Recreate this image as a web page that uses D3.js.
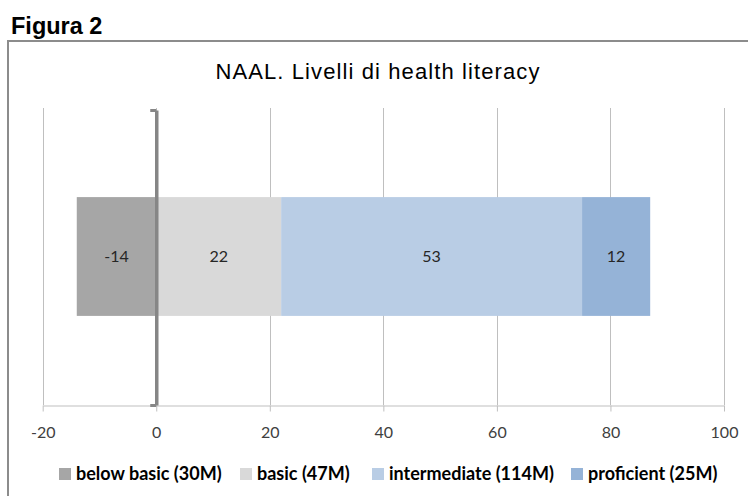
<!DOCTYPE html>
<html>
<head>
<meta charset="utf-8">
<script src="https://cdn.jsdelivr.net/npm/d3@7"></script>
<style>
  body { margin: 0; background: #fff; }
  svg { display: block; }
  .tick-label { font-family: Lato, 'Open Sans', sans-serif; font-size: 16px; fill: #404040; }
  .legend-text { font-family: Lato, 'Open Sans', sans-serif; font-size: 18px; font-weight: bold; fill: #000; }
  .bar-label { font-family: Lato, 'Open Sans', sans-serif; font-size: 16px; fill: #262626; }
</style>
</head>
<body>
<div id="chart"></div>
<script>
  // data
  var categories = ['NAAL'];
  var seriesNames = ['below basic (30M)', 'basic (47M)', 'intermediate (114M)', 'proficient (25M)'];
  var seriesValues = [-14, 22, 53, 12];
  var seriesColors = ['#a6a6a6', '#d9d9d9', '#b9cde5', '#95b3d7'];
  var tickValues = [-20, 0, 20, 40, 60, 80, 100];

  var svgWidth = 748,
    svgHeight = 496,
    plot = { left: 42.7, right: 724, top: 108, bottom: 405 };

  var svg = d3.select('#chart')
    .append('svg')
    .attr('width', svgWidth)
    .attr('height', svgHeight);

  // figure caption + frame
  svg.append('text')
    .attr('x', 11)
    .attr('y', 34)
    .style('font-family', 'Liberation Sans, Arial, sans-serif')
    .style('font-weight', 'bold')
    .style('font-size', '23.5px')
    .text('Figura 2');

  svg.append('rect')
    .attr('x', 8)
    .attr('y', 41)
    .attr('width', 760)
    .attr('height', 480)
    .attr('fill', 'none')
    .attr('stroke', '#8c8c8c')
    .attr('stroke-width', 2);

  svg.append('text')
    .attr('x', 378)
    .attr('y', 79)
    .attr('text-anchor', 'middle')
    .style('font-family', 'Liberation Sans, Arial, sans-serif')
    .style('font-size', '22px')
    .style('letter-spacing', '1.1px')
    .text('NAAL. Livelli di health literacy');

  var x = d3.scaleLinear()
    .domain([tickValues[0], tickValues[tickValues.length - 1]])
    .range([plot.left, plot.right]);

  var y = d3.scaleBand()
    .domain(categories)
    .range([plot.top, plot.bottom])
    .paddingInner(0)
    .paddingOuter(0.75);

  // vertical gridlines
  svg.append('g')
    .selectAll('line')
    .data(tickValues)
    .enter().append('line')
    .attr('x1', function(d) { return Math.round(x(d)) + 0.5; })
    .attr('x2', function(d) { return Math.round(x(d)) + 0.5; })
    .attr('y1', plot.top)
    .attr('y2', plot.bottom)
    .attr('stroke', '#bfbfbf')
    .attr('stroke-width', 1);

  // value axis
  var xAxis = svg.append('g')
    .attr('transform', 'translate(0,' + (plot.bottom + 0.5) + ')')
    .call(d3.axisBottom(x)
      .tickValues(tickValues)
      .tickFormat(function(d) { return String(d); })
      .tickSize(6).tickPadding(15).tickSizeOuter(0));
  xAxis.select('.domain').attr('stroke', '#bfbfbf');
  xAxis.selectAll('.tick line').attr('stroke', '#bfbfbf');
  xAxis.selectAll('.tick text')
    .attr('class', 'tick-label')
    .attr('fill', null)
    .attr('font-family', null)
    .attr('font-size', null);

  // stacked bars (diverging around zero)
  var row = {};
  seriesNames.forEach(function(name, i) { row[name] = seriesValues[i]; });
  var stacked = d3.stack()
    .keys(seriesNames)
    .offset(d3.stackOffsetDiverging)([row]);

  var layers = svg.append('g')
    .selectAll('g')
    .data(stacked)
    .enter().append('g')
    .attr('fill', function(d, i) { return seriesColors[i]; });

  layers.append('rect')
    .attr('x', function(d) { return x(Math.min(d[0][0], d[0][1])); })
    .attr('y', y(categories[0]))
    .attr('width', function(d) { return Math.abs(x(d[0][1]) - x(d[0][0])); })
    .attr('height', y.bandwidth());

  layers.append('text')
    .attr('class', 'bar-label')
    .attr('x', function(d) { return (x(d[0][0]) + x(d[0][1])) / 2; })
    .attr('y', y(categories[0]) + y.bandwidth() / 2)
    .attr('dy', '0.35em')
    .attr('text-anchor', 'middle')
    .text(function(d, i) { return seriesValues[i]; });

  // category axis at zero
  var yEdge = d3.scaleLinear().domain([0, 1]).range([plot.top + 2, plot.bottom]);
  var yAxis = svg.append('g')
    .attr('transform', 'translate(' + x(0) + ',0)')
    .call(d3.axisLeft(yEdge).tickValues([0, 1]).tickSize(6).tickSizeOuter(0).tickFormat(''));
  yAxis.select('.domain').attr('stroke', '#868686').attr('stroke-width', 3.5);
  yAxis.selectAll('.tick line').attr('stroke', '#868686').attr('stroke-width', 3);

  // legend
  var legendX = [59, 240, 372, 571];
  var legend = svg.append('g')
    .selectAll('g')
    .data(seriesNames)
    .enter().append('g')
    .attr('transform', function(d, i) { return 'translate(' + legendX[i] + ',468)'; });

  legend.append('rect')
    .attr('width', 12)
    .attr('height', 12)
    .attr('fill', function(d, i) { return seriesColors[i]; });

  legend.append('text')
    .attr('class', 'legend-text')
    .attr('x', 17)
    .attr('y', 6)
    .attr('dy', '0.35em')
    .text(function(d) { return d; });
</script>
</body>
</html>
